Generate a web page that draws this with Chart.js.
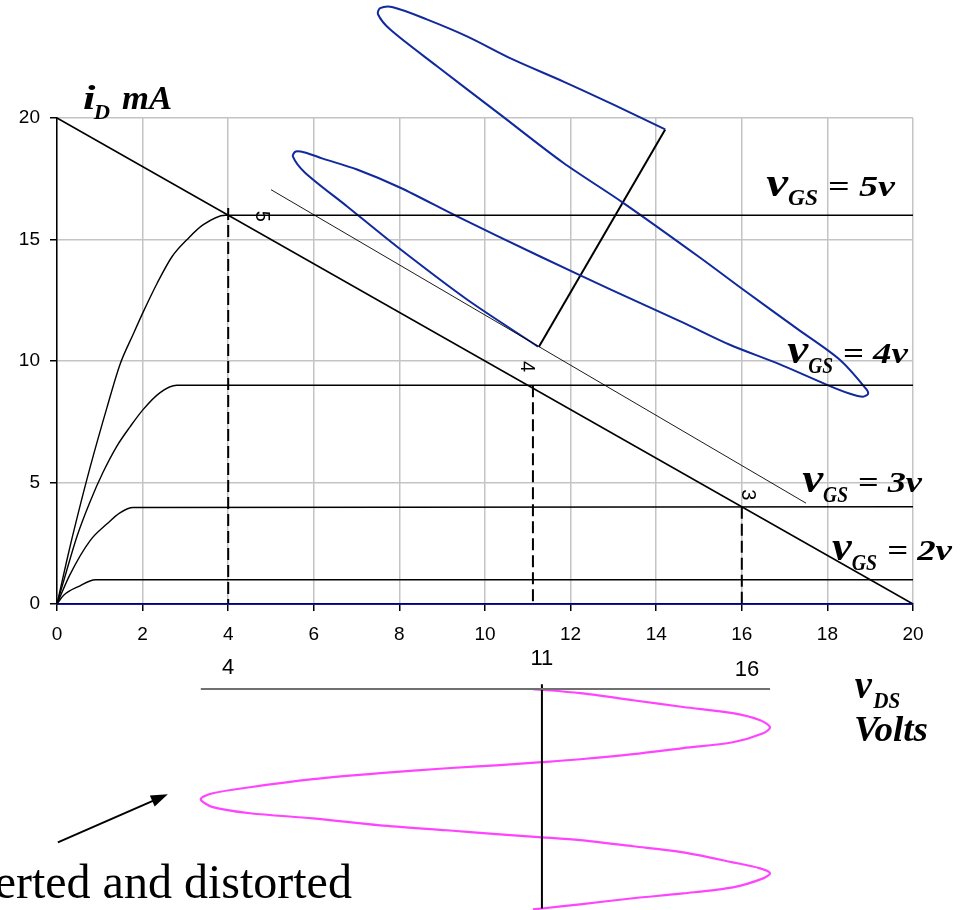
<!DOCTYPE html>
<html>
<head>
<meta charset="utf-8">
<script src="https://cdn.jsdelivr.net/npm/chart.js@4"></script>
<style>
  body { margin: 0; background: #fff; }
  canvas { display: block; }
</style>
</head>
<body>
<canvas id="chart" width="960" height="910"></canvas>
<script>
// drain characteristics, [vDS, iD] up to the knee, then flat
const curve5 = [[0, 0], [0.23, 1.8], [0.35, 2.7], [0.49, 3.7], [0.77, 5.6], [1.17, 8.1], [1.47, 9.85], [1.78, 11.1], [2.01, 12.0], [2.34, 13.2], [2.69, 14.3], [3.04, 15.0], [3.41, 15.6], [3.93, 16.0], [20, 16]];
const curve4 = [[0, 0], [0.23, 1.4], [0.47, 2.8], [0.77, 4.2], [1.07, 5.4], [1.4, 6.5], [1.71, 7.3], [2.01, 8.0], [2.41, 8.7], [2.8, 9.0], [20, 9]];
const curve3 = [[0, 0], [0.3, 1.2], [0.77, 2.6], [1.17, 3.3], [1.47, 3.75], [1.78, 3.97], [20, 4]];
const curve2 = [[0, 0], [0.15, 0.35], [0.5, 0.72], [0.9, 1.0], [20, 1]];

const loadLine = [[0, 20], [20, 0]];
const shiftedLoadLine = [[5, 17.05], [17.5, 4.15]];
const xAxisLine = [[0, 0], [20, 0]];

// operating points dropped to the vDS axis
const drop5 = [[4, 16.3], [4, 0]];
const drop4 = [[11.12, 9], [11.12, 0]];
const drop3 = [[16, 4], [16, 0]];

// input vGS swing, drawn along the load line
const inputAxis = [[11.26, 10.59], [14.21, 19.53]];
const inputWave = [
  [11.24, 10.59], [9.58, 12.53], [7.94, 14.71], [6.78, 16.36], [5.79, 17.76], [5.51, 18.42],
  [5.58, 18.62], [5.79, 18.58], [6.21, 18.33], [7.01, 17.88], [8.01, 17.14], [9.35, 15.95],
  [11.29, 14.3], [12.94, 12.94], [14.63, 11.58], [15.72, 10.67], [16.85, 9.89], [17.99, 9.02],
  [18.53, 8.65], [18.83, 8.53], [18.95, 8.65], [18.9, 8.86], [18.29, 10.05],
  [17.29, 11.33], [16.03, 12.94], [15.02, 14.26], [13.22, 16.52], [11.82, 18.17], [10.35, 20.15],
  [8.88, 22.13], [7.78, 23.65], [7.5, 24.27], [7.55, 24.52], [7.85, 24.56], [8.64, 24.06],
  [9.58, 23.36], [10.65, 22.41], [11.82, 21.51], [12.99, 20.56], [14.21, 19.53]
];

// output vDS swing, drawn below the chart (time runs downwards)
const sweepAxis = [[3.36, -3.5], [16.66, -3.5]];
const sweepTicks = [3.36, 4.47, 5.56, 6.67, 7.8, 8.91, 10.0, 11.11, 12.24, 13.35, 14.42, 15.54, 16.66];
const sweepTime = [[11.33, -3.3], [11.33, -12.53]];
const outputWave = [
  [11.12, -3.5], [12.22, -3.67], [13.46, -3.96], [14.63, -4.24], [15.79, -4.49], [16.43, -4.78],
  [16.66, -5.07], [16.5, -5.32], [15.79, -5.69], [14.63, -5.93], [13.46, -6.18], [12.22, -6.39],
  [11.33, -6.51], [10.35, -6.63], [9.11, -6.76], [7.55, -6.96], [5.98, -7.21], [4.51, -7.54],
  [3.64, -7.79], [3.36, -8.03], [3.64, -8.36], [4.51, -8.61], [5.98, -8.82], [7.55, -9.11],
  [9.11, -9.31], [10.35, -9.48], [11.33, -9.6], [12.22, -9.72], [13.46, -9.97], [14.63, -10.22],
  [15.79, -10.63], [16.43, -10.88], [16.66, -11.08], [16.5, -11.29], [15.79, -11.66], [14.63, -11.91],
  [13.46, -12.11], [12.22, -12.36], [11.33, -12.53], [11.12, -12.57]
];

const vgsValues = ["5v", "4v", "3v", "2v"];
const qMarks = ["5", "4", "3"];
const sweepLabels = ["4", "11", "16"];

const toPoints = (arr) => arr.map(([x, y]) => ({ x, y }));

const line = (arr, color, width, extra = {}) => ({
  data: toPoints(arr),
  showLine: true,
  borderColor: color,
  borderWidth: width,
  pointRadius: 0,
  tension: 0,
  clip: false,
  ...extra,
});

const smooth = { cubicInterpolationMode: "monotone" };

const datasets = [
  line(curve5, "#000", 1.4, smooth),
  line(curve4, "#000", 1.4, smooth),
  line(curve3, "#000", 1.4, smooth),
  line(curve2, "#000", 1.4, smooth),
  line(xAxisLine, "#000080", 1.6),
  line(loadLine, "#000", 1.5),
  line(shiftedLoadLine, "#000", 0.9),
  line(drop5, "#000", 2, { borderDash: [12, 5] }),
  line(drop4, "#000", 2, { borderDash: [12, 5] }),
  line(drop3, "#000", 2, { borderDash: [12, 5] }),
  line(inputWave, "#10299c", 2, { tension: 0.3 }),
  line(inputAxis, "#000", 2),
  line(sweepAxis, "#707070", 2),
  {
    data: sweepTicks.map((x) => ({ x, y: -3.44 })),
    showLine: false,
    pointStyle: "line",
    rotation: 90,
    pointRadius: 2.5,
    borderColor: "#707070",
    borderWidth: 1.5,
    clip: false,
  },
  line(sweepTime, "#000", 2),
  line(outputWave, "#ff44ff", 2.2, { tension: 0.3 }),
];

const serif = '"Liberation Serif", "Times New Roman", serif';
const sans = '"Liberation Sans", Arial, sans-serif';

// draw text squeezed/stretched to span [x0, x1] on baseline yb
const fitText = (ctx, text, font, x0, x1, yb) => {
  ctx.font = font;
  const w = ctx.measureText(text).width;
  ctx.save();
  ctx.translate(x0, yb);
  ctx.scale((x1 - x0) / w, 1);
  ctx.textAlign = "left";
  ctx.textBaseline = "alphabetic";
  ctx.fillText(text, 0, 0);
  ctx.restore();
};

// label spans in data units: [left, right, baseline]
const vgsLayout = [
  { v: [16.57, 17.08, 16.81], sub: [17.08, 17.78, 16.44], eq: [18.01, 19.58, 16.81] },
  { v: [17.06, 17.55, 9.93], sub: [17.55, 18.13, 9.52], eq: [18.36, 19.88, 9.93] },
  { v: [17.41, 17.9, 4.61], sub: [17.9, 18.48, 4.2], eq: [18.71, 20.21, 4.61] },
  { v: [18.11, 18.57, 1.81], sub: [18.57, 19.16, 1.4], eq: [19.39, 20.91, 1.81] },
];
const qMarkAt = [[4.79, 15.95], [10.96, 9.77], [16.14, 4.49]];
const sweepLabelAt = [[4.0, -2.64], [11.33, -2.27], [16.12, -2.72]];

const annotate = {
  id: "annotate",
  afterDatasetsDraw(chart) {
    const { ctx } = chart;
    const { x, y } = chart.scales;
    const px = (v) => x.getPixelForValue(v);
    const py = (v) => y.getPixelForValue(v);
    const span = (text, font, [a, b, base]) => fitText(ctx, text, font, px(a), px(b), py(base));

    ctx.save();
    ctx.fillStyle = "#000";
    ctx.strokeStyle = "#000";

    // axis titles
    span("i", `italic bold 33px ${serif}`, [0.61, 0.9, 20.35]);
    span("D", `italic bold 22px ${serif}`, [0.86, 1.24, 19.94]);
    span("mA", `italic bold 33px ${serif}`, [1.52, 2.69, 20.35]);

    span("v", `italic bold 40px ${serif}`, [18.64, 19.04, -3.87]);
    span("DS", `italic bold 24px ${serif}`, [19.07, 19.7, -4.29]);
    span("Volts", `italic bold 36px ${serif}`, [18.62, 20.35, -5.64]);

    // gate voltage of each curve
    vgsValues.forEach((val, i) => {
      const l = vgsLayout[i];
      span("v", `italic bold 40px ${serif}`, l.v);
      span("GS", `italic bold 24px ${serif}`, l.sub);
      span("= " + val, `italic bold 30px ${serif}`, l.eq);
    });

    // vGS marks along the load line
    ctx.font = `20px ${sans}`;
    ctx.textAlign = "center";
    ctx.textBaseline = "middle";
    qMarks.forEach((t, i) => {
      ctx.save();
      ctx.translate(px(qMarkAt[i][0]), py(qMarkAt[i][1]));
      ctx.rotate(Math.PI / 2);
      ctx.fillText(t, 0, 0);
      ctx.restore();
    });

    // output swing scale
    ctx.font = `22px ${sans}`;
    sweepLabels.forEach((t, i) => {
      ctx.fillText(t, px(sweepLabelAt[i][0]), py(sweepLabelAt[i][1]));
    });

    // note with arrow pointing at the clipped half-cycle
    ctx.font = `48px ${serif}`;
    ctx.textAlign = "right";
    ctx.textBaseline = "alphabetic";
    ctx.fillText("inverted and distorted", px(6.89), py(-12.11));

    const x0 = px(0.02), y0 = py(-9.81), x1 = px(2.59), y1 = py(-7.83);
    const ang = Math.atan2(y1 - y0, x1 - x0);
    ctx.lineWidth = 2;
    ctx.beginPath();
    ctx.moveTo(x0, y0);
    ctx.lineTo(x1 - 12 * Math.cos(ang), y1 - 12 * Math.sin(ang));
    ctx.stroke();
    ctx.beginPath();
    ctx.moveTo(x1, y1);
    ctx.lineTo(x1 - 17 * Math.cos(ang) + 6 * Math.sin(ang), y1 - 17 * Math.sin(ang) - 6 * Math.cos(ang));
    ctx.lineTo(x1 - 17 * Math.cos(ang) - 6 * Math.sin(ang), y1 - 17 * Math.sin(ang) + 6 * Math.cos(ang));
    ctx.closePath();
    ctx.fill();

    ctx.restore();
  },
};

new Chart(document.getElementById("chart"), {
  type: "scatter",
  data: { datasets },
  options: {
    responsive: false,
    animation: false,
    devicePixelRatio: 1,
    layout: { padding: { top: 118, right: 47, bottom: 266, left: 0 } },
    plugins: { legend: { display: false }, tooltip: { enabled: false } },
    scales: {
      x: {
        type: "linear",
        min: 0,
        max: 20,
        ticks: { stepSize: 2, color: "#000", maxRotation: 0, padding: 12, font: { family: sans, size: 19 } },
        grid: { color: "#c4c4c4", lineWidth: 1.5, tickColor: "#000", tickLength: 7, tickWidth: 1.5 },
        border: { color: "#000080", width: 1.5 },
        afterFit: (s) => { s.height = 40; },
      },
      y: {
        type: "linear",
        min: 0,
        max: 20,
        ticks: { stepSize: 5, color: "#000", padding: 10, font: { family: sans, size: 19 } },
        grid: { color: "#c4c4c4", lineWidth: 1.5, tickColor: "#000", tickLength: 7, tickWidth: 1.5 },
        border: { color: "#000", width: 1.5 },
        afterFit: (s) => { s.width = 57; },
      },
    },
  },
  plugins: [annotate],
});
</script>
</body>
</html>
